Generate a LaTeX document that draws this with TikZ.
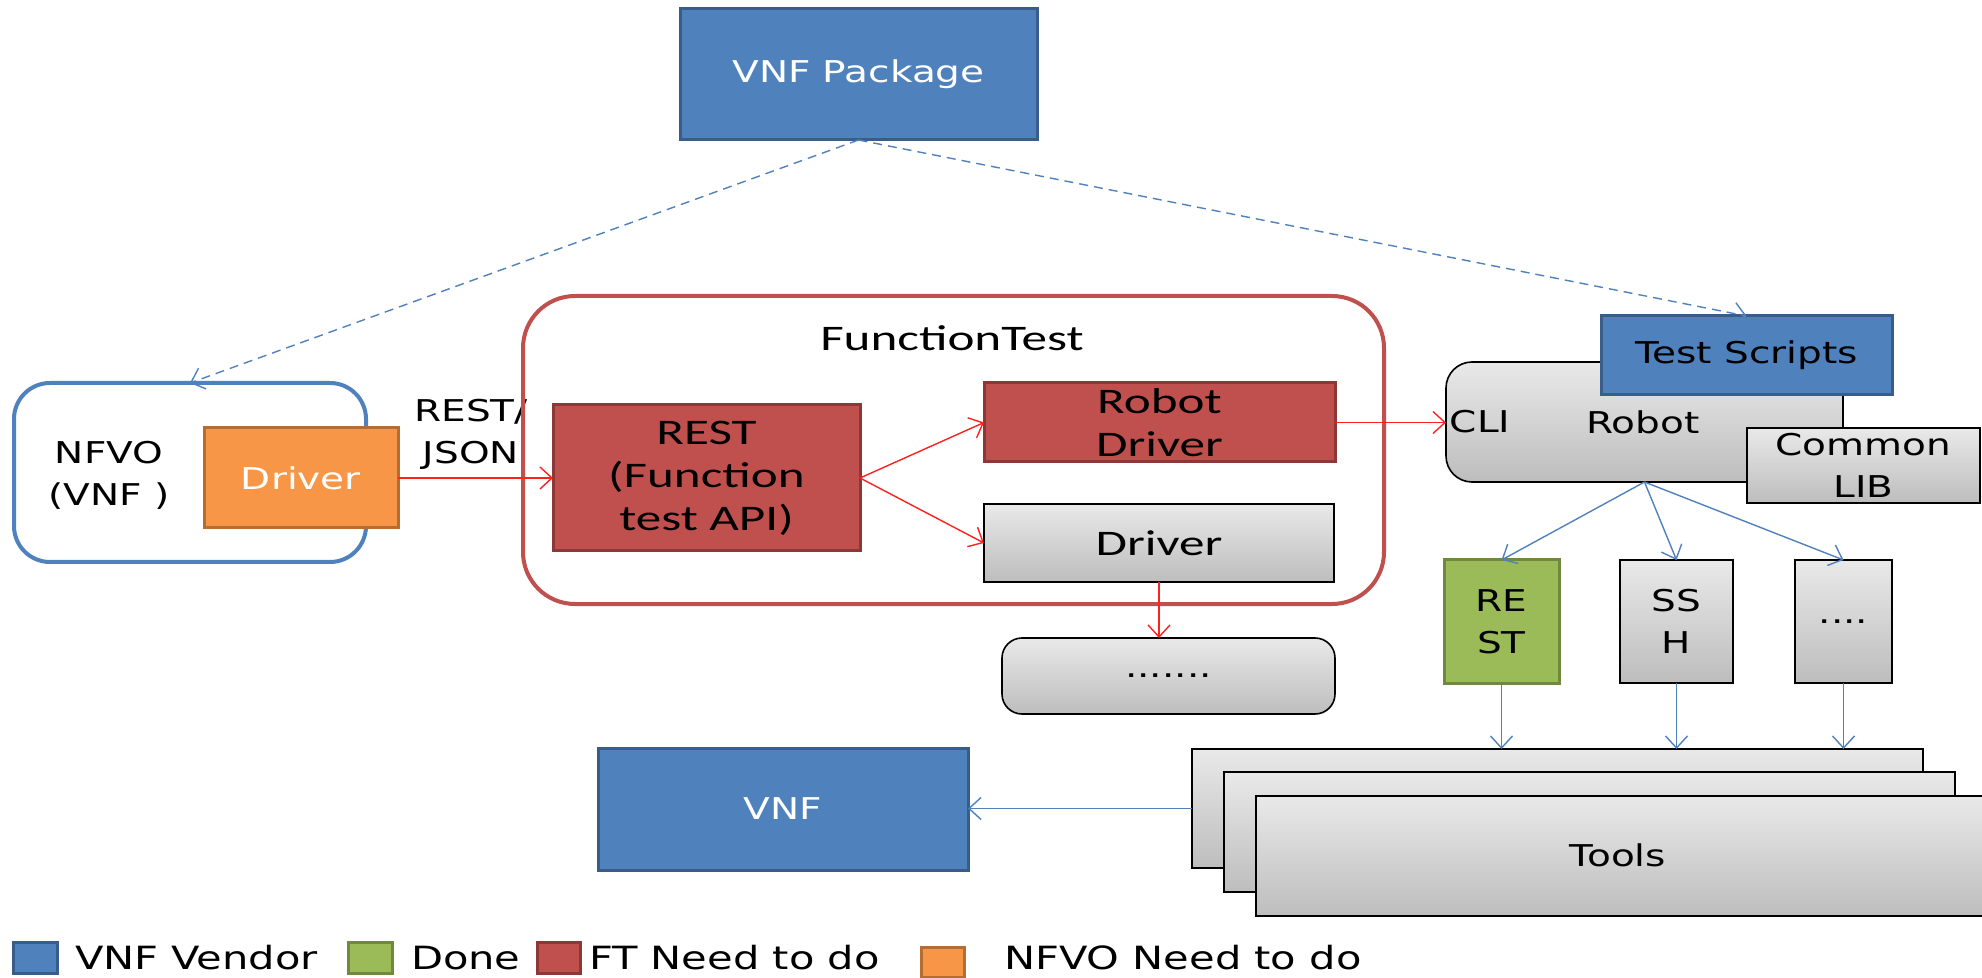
\documentclass[tikz,border=0pt]{standalone}
\usepackage{fontspec}
\usetikzlibrary{arrows.meta}
\newfontfamily\vfont[FakeStretch=1.3]{DejaVu Sans}
\newfontfamily\cfont[FakeStretch=1.42]{Carlito}
\definecolor{vblue}{HTML}{4F81BD}
\definecolor{vblueD}{HTML}{385D8A}
\definecolor{fred}{HTML}{C0504D}
\definecolor{fredD}{HTML}{8C3836}
\definecolor{dgreen}{HTML}{9BBB59}
\definecolor{dgreenD}{HTML}{71893F}
\definecolor{norange}{HTML}{F79646}
\definecolor{norangeD}{HTML}{B66D31}
\definecolor{gtop}{HTML}{E9E9E9}
\definecolor{gbot}{HTML}{BDBDBD}
\definecolor{arrred}{HTML}{FF2020}
% box from pixel corners: style, name, x1, y1, x2, y2, text
\newcommand\mkbox[7]{\node[#1, minimum width={(#5-#3)*0.5pt}, minimum height={(#6-#4)*0.5pt}] (#2) at ({(#3+#5)/2},{(#4+#6)/2}) {#7};}
\begin{document}
\begin{tikzpicture}[x=0.5pt,y=-0.5pt,
  box/.style={inner sep=0pt, outer sep=0pt, align=center},
  bluebox/.style={box, fill=vblue, draw=vblueD, line width=1.5pt},
  redbox/.style={box, fill=fred, draw=fredD, line width=1.5pt},
  greenbox/.style={box, fill=dgreen, draw=dgreenD, line width=1.5pt},
  orangebox/.style={box, fill=norange, draw=norangeD, line width=1.5pt},
  greybox/.style={box, top color=gtop, bottom color=gbot, draw=black, line width=0.8pt},
  vtext/.style={font=\vfont\fontsize{15}{21}\selectfont},
  ctext/.style={font=\cfont\fontsize{18}{21.5}\selectfont},
  legtext/.style={font=\vfont\fontsize{16}{20}\selectfont},
  lbl/.style={inner sep=0pt, outer sep=0pt, align=center},
  tip/.style={-{Straight Barb[length=6pt,width=11pt]}},
  redarrow/.style={draw=arrred, line width=0.7pt, tip},
  bluearrow/.style={draw=vblue, line width=0.7pt, tip},
  dasharrow/.style={draw=vblue, line width=0.7pt, dash pattern=on 4.5pt off 3pt, tip},
]
\useasboundingbox (0,0) rectangle (1982,978);
\clip (0,0) rectangle (1982,978);

% VNF Package
\mkbox{bluebox, vtext, text=white}{vnfpkg}{680}{9}{1037}{140}{VNF Package}

% NFVO
\mkbox{box, draw=vblue, line width=2pt, fill=white, rounded corners=18pt}{nfvo}{14}{383}{366}{562}{}
\node[lbl, vtext] (nfvolabel) at (109,475) {NFVO\\(VNF )};
\mkbox{orangebox, vtext, text=white}{odrv}{204}{428}{398}{528}{Driver}
\node[lbl, vtext] (restjson) at (471,434) {REST/\\JSON};

% FunctionTest
\mkbox{box, draw=fred, line width=2pt, rounded corners=26pt}{ft}{523}{296}{1384}{604}{}
\node[lbl, ctext] (ftlabel) at (952,338) {FunctionTest};
\mkbox{redbox, ctext}{rest}{553}{405}{860}{551}{REST\\(Function\\test API)}
\mkbox{redbox, ctext}{robdrv}{984}{383}{1335}{462}{Robot\\Driver}
\mkbox{greybox, ctext}{gdrv}{984}{504}{1334}{582}{Driver}
\mkbox{greybox, rounded corners=10pt, vtext}{dots}{1002}{638}{1335}{714}{.......}

% Robot
\mkbox{greybox, rounded corners=13pt}{robot}{1446}{362}{1843}{482}{}
\node[lbl, vtext] (cli) at (1480,422) {CLI};
\node[lbl, vtext] (robotlabel) at (1643,422) {Robot};
\mkbox{bluebox, vtext}{tscripts}{1601}{316}{1892}{395}{Test Scripts}
\mkbox{greybox, vtext}{clib}{1747}{428}{1980}{503}{Common\\LIB}

% protocol boxes
\mkbox{greenbox, vtext}{rest2}{1444}{560}{1559}{683}{RE\\ST}
\mkbox{greybox, vtext}{ssh}{1620}{560}{1733}{683}{SS\\H}
\mkbox{greybox, vtext}{more}{1795}{560}{1892}{683}{....}

% Tools stack
\mkbox{greybox}{tools1}{1192}{749}{1923}{868}{}
\mkbox{greybox}{tools2}{1224}{772}{1955}{892}{}
\mkbox{greybox}{tools3}{1256}{796}{1995}{916}{}
\node[lbl, vtext] (toolslabel) at (1618,855) {Tools};

% VNF
\mkbox{bluebox, vtext, text=white}{vnf}{598}{748}{968}{870}{VNF}

% connectors
\draw[dasharrow] (vnfpkg.south) -- (nfvo.north);
\draw[dasharrow] (vnfpkg.south) -- (tscripts.north);
\draw[redarrow] (odrv.east) -- (odrv.east -| rest.west);
\draw[redarrow] (rest.east) -- (robdrv.west);
\draw[redarrow] (rest.east) -- (gdrv.west);
\draw[redarrow] (robdrv.east) -- (robdrv.east -| robot.west);
\draw[redarrow] (gdrv.south) -- (gdrv.south |- dots.north);
\draw[bluearrow] (robot.south) -- (rest2.north);
\draw[bluearrow] (robot.south) -- (ssh.north);
\draw[bluearrow] (robot.south) -- (more.north);
\draw[bluearrow] (rest2.south) -- (rest2.south |- tools1.north);
\draw[bluearrow] (ssh.south) -- (ssh.south |- tools1.north);
\draw[bluearrow] (more.south) -- (more.south |- tools1.north);
\draw[bluearrow] (tools1.west) -- (tools1.west -| vnf.east);

% legend
\mkbox{bluebox}{lgblue}{13}{942}{57}{973}{}
\node[lbl, legtext, anchor=west] (lgbluet) at (75,958) {VNF Vendor};
\mkbox{greenbox}{lggreen}{348}{942}{392}{973}{}
\node[lbl, legtext, anchor=west] (lggreent) at (411,958) {Done};
\mkbox{redbox}{lgred}{537}{942}{580}{973}{}
\node[lbl, legtext, anchor=west] (lgredt) at (589,958) {FT Need to do};
\mkbox{orangebox}{lgorange}{921}{947}{964}{977}{}
\node[lbl, legtext, anchor=west] (lgoranget) at (1004,958) {NFVO Need to do};
\end{tikzpicture}
\end{document}
